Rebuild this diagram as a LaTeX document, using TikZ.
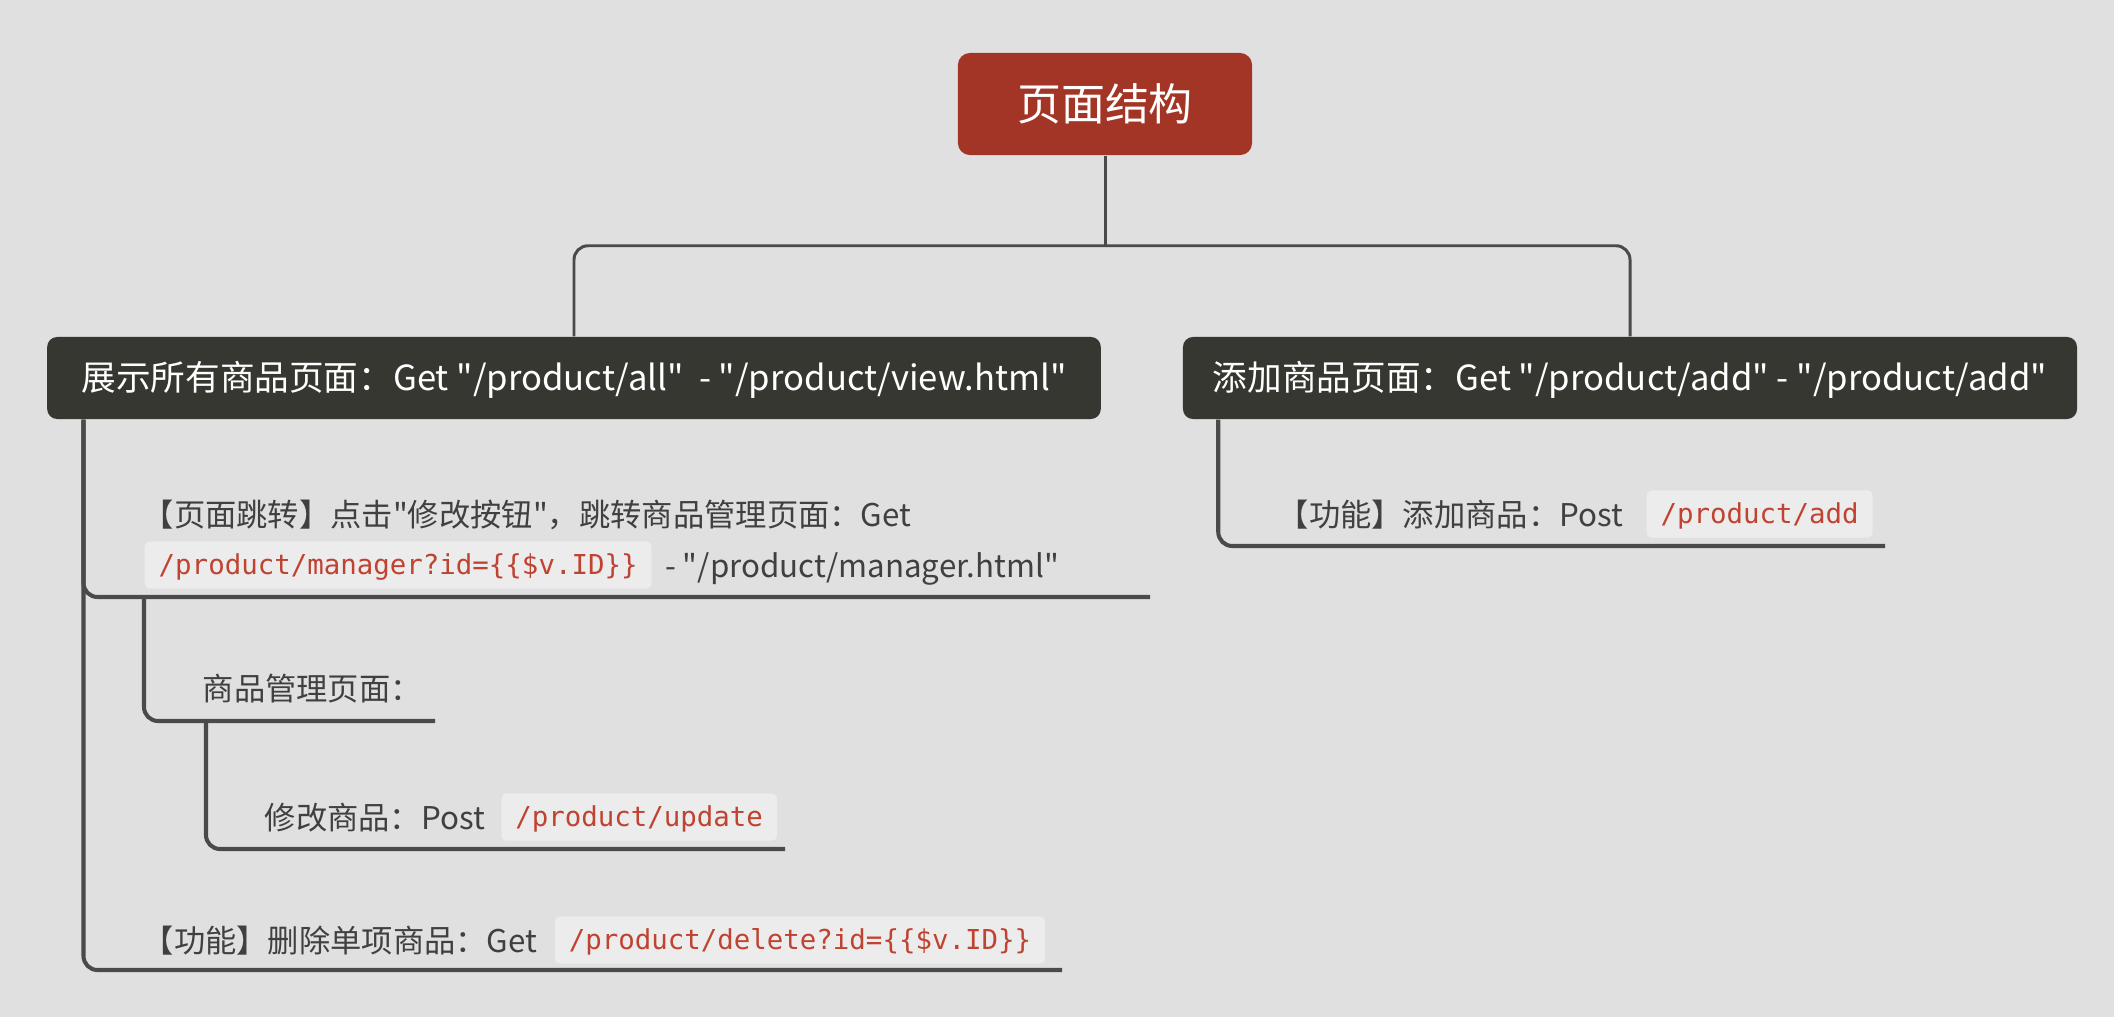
\documentclass[tikz,border=0pt]{standalone}
\usepackage{fontspec}
\setmainfont{Noto Sans CJK SC}[Ligatures=TeXOff]
\setmonofont{DejaVu Sans Mono}
\usetikzlibrary{positioning,calc}
\definecolor{mapbg}{RGB}{224,224,224}
\definecolor{maproot}{RGB}{163,53,38}
\definecolor{mapdark}{RGB}{55,55,50}
\definecolor{mapline}{RGB}{74,74,74}
\definecolor{maptext}{RGB}{64,64,64}
\definecolor{codebg}{RGB}{236,236,236}
\definecolor{codefg}{RGB}{192,66,48}
\tikzset{
  rootbox/.style={fill=maproot,rounded corners=0.12cm,text=white,minimum width=2.94cm,minimum height=1.02cm,font=\fontsize{12.5pt}{15pt}\selectfont},
  pagebox/.style={fill=mapdark,rounded corners=0.1cm,text=white,minimum height=0.82cm,inner xsep=0.3cm,font=\fontsize{9.85pt}{12pt}\selectfont,text height=0.86em,text depth=0.14em},
  leaf/.style={text=maptext,inner sep=0pt,font=\fontsize{8.9pt}{10pt}\selectfont,text height=0.86em,text depth=0.14em},
  codebox/.style={fill=codebg,rounded corners=0.05cm,text=codefg,inner xsep=0.14cm,inner ysep=0.06cm,font=\ttfamily\fontsize{7.8pt}{9pt}\selectfont,text height=0.78em,text depth=0.22em},
  link/.style={draw=mapline,line width=0.85pt,rounded corners=0.14cm},
  leaflink/.style={draw=mapline,line width=1.15pt,rounded corners=0.14cm},
}
\begin{document}
\begin{tikzpicture}[x=0.01cm,y=-0.01cm]
  \fill[mapbg] (0,0) rectangle (2114,1017);
  \useasboundingbox (0,0) rectangle (2114,1017);
  %% root and the two pages
  \node[rootbox] (root) at (1105,104) {页面结构};
  \node[pagebox,minimum width=10.53cm] (viewall) at (574,378) {展示所有商品页面：Get "/product/all"\ \ - "/product/view.html"};
  \node[pagebox,minimum width=8.93cm] (addpage) at (1630,378) {添加商品页面：Get "/product/add" - "/product/add"};
  %% leaves under the view page
  \node[leaf,anchor=west] (jumptext) at (142,514) {【页面跳转】点击"修改按钮"，跳转商品管理页面：Get};
  \node[codebox,anchor=west] (jumpcode) at (144,565) {/product/manager?id=\{\{\$v.ID\}\}};
  \node[leaf,right=0.12cm of jumpcode] (jumptail) {- "/product/manager.html"};
  \node[leaf,anchor=west] (manage) at (202,688) {商品管理页面：};
  \node[leaf,anchor=west] (update) at (264,817) {修改商品：Post};
  \node[codebox,right=0.15cm of update] (updatecode) {/product/update};
  \node[leaf,anchor=west] (delete) at (142,940) {【功能】删除单项商品：Get};
  \node[codebox,right=0.16cm of delete] (deletecode) {/product/delete?id=\{\{\$v.ID\}\}};
  %% leaf under the add page
  \node[leaf,anchor=west] (addfunc) at (1277,514) {【功能】添加商品：Post};
  \node[codebox,right=0.22cm of addfunc] (addcode) {/product/add};
  %% connectors
  \coordinate (hub) at ($(root.south)+(0,90)$);
  \draw[link] (root.south) -- (hub);
  \draw[link] (hub) -| (viewall.north);
  \draw[link] (hub) -| (addpage.north);
  \coordinate (viewtrunk) at ($(viewall.south west)+(37,0)$);
  \coordinate (jumpend) at (1150,597);
  \coordinate (deleteend) at (1062,970);
  \draw[leaflink] (viewtrunk) |- (jumpend);
  \draw[leaflink] (viewtrunk) |- (deleteend);
  \coordinate (jumpfork) at (144,597);
  \coordinate (manageend) at (435,721);
  \draw[leaflink] (jumpfork) |- (manageend);
  \coordinate (managefork) at (206,721);
  \coordinate (updateend) at (785,849);
  \draw[leaflink] (managefork) |- (updateend);
  \coordinate (addtrunk) at ($(addpage.south west)+(36,0)$);
  \coordinate (addend) at (1885,546);
  \draw[leaflink] (addtrunk) |- (addend);
\end{tikzpicture}
\end{document}
